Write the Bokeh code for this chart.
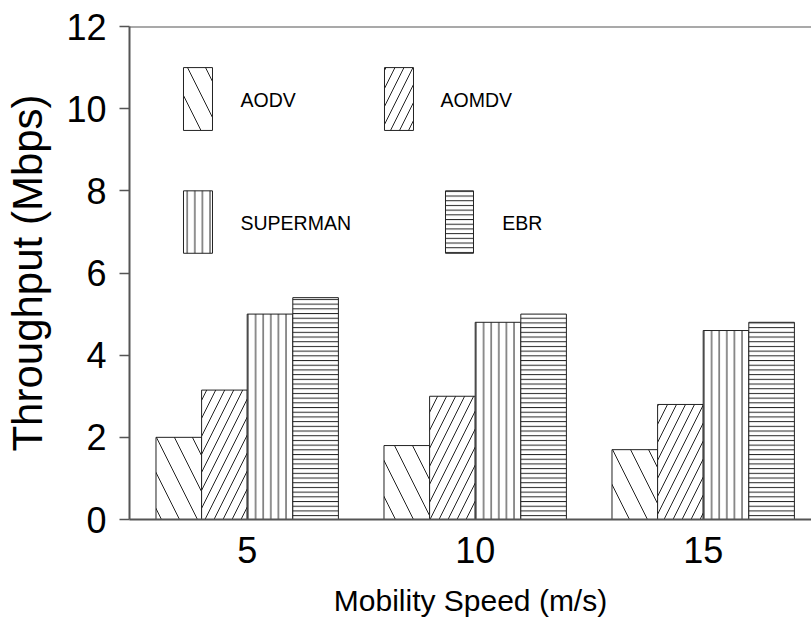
from bokeh.plotting import figure
from bokeh.models import Range1d, FixedTicker, Span
from bokeh.embed import file_html
from bokeh.resources import INLINE
from bokeh.core.properties import value
import numpy as np

# Throughput (Mbps) per routing protocol at each mobility speed
speeds = ["5", "10", "15"]
protocols = ["AODV", "AOMDV", "SUPERMAN", "EBR"]
aodv = [2.0, 1.8, 1.7]
aomdv = [3.15, 3.0, 2.8]
superman = [5.0, 4.8, 4.6]
ebr = [5.4, 5.0, 4.8]
y_ticks = [0, 2, 4, 6, 8, 10, 12]

series = [aodv, aomdv, superman, ebr]

FONT = "Liberation Sans"
AXIS_GREY = "#555555"
EDGE = "#222222"
TEXT = "#000000"

# hatch style per protocol: (pattern, spacing in px)
hatch_styles = [("\\", 36), ("/", 18), ("|", 7.6), ("-", 4.7)]

group_pos = np.arange(1, len(speeds) + 1)
bar_w = 0.2
offsets = [-0.3, -0.1, 0.1, 0.3]

p = figure(
    frame_width=682, frame_height=493,
    x_range=Range1d(0.4838, 3.475), y_range=Range1d(0, 12),
    output_backend="svg", toolbar_location=None,
    min_border_left=129, min_border_right=0, min_border_top=26,
    min_border_bottom=10,
)
p.background_fill_color = "white"
p.border_fill_color = "white"
p.outline_line_color = None
p.xgrid.visible = False
p.ygrid.visible = False

for vals, off, (pat, scale) in zip(series, offsets, hatch_styles):
    p.vbar(x=group_pos + off, top=vals, width=bar_w, bottom=0,
           fill_color="white", line_color=EDGE, line_width=1,
           hatch_pattern=pat, hatch_scale=scale, hatch_color=EDGE,
           hatch_weight=1)

# top frame line
p.add_layout(Span(location=12, dimension="width", line_color=AXIS_GREY,
                  line_width=2))

# legend: hatched swatches with labels, laid out in a 2x2 arrangement
leg_left = [0.7206, 1.6022, 0.7206, 1.8697]
leg_right = [0.8478, 1.7294, 0.8478, 1.9925]
leg_top = [11.0, 11.0, 8.0, 8.0]
leg_bottom = [9.47, 9.47, 6.48, 6.48]
txt_x = [0.9706, 1.8478, 0.9706, 2.1184]
txt_y = [10.2, 10.2, 7.22, 7.22]
for i, (pat, scale) in enumerate(hatch_styles):
    p.quad(left=[leg_left[i]], right=[leg_right[i]], top=[leg_top[i]],
           bottom=[leg_bottom[i]], fill_color="white", line_color=EDGE,
           line_width=1, hatch_pattern=pat, hatch_scale=scale,
           hatch_color=EDGE, hatch_weight=1)
p.text(x=txt_x, y=txt_y, text=protocols, text_font=value(FONT),
       text_font_size="19.5px", text_baseline="middle", text_align="left",
       text_color=TEXT)

# axes
xa = p.xaxis[0]
xa.ticker = FixedTicker(ticks=list(group_pos))
xa.major_label_overrides = {int(g): s for g, s in zip(group_pos, speeds)}
xa.major_tick_line_color = None
xa.minor_tick_line_color = None
xa.axis_line_color = AXIS_GREY
xa.axis_line_width = 2
xa.major_label_text_font = FONT
xa.major_label_text_font_size = "36px"
xa.major_label_text_color = TEXT
xa.major_label_standoff = 11
xa.axis_label = "Mobility Speed (m/s)"
xa.axis_label_text_font = FONT
xa.axis_label_text_font_size = "30px"
xa.axis_label_text_font_style = "normal"
xa.axis_label_text_color = TEXT
xa.axis_label_standoff = 18

ya = p.yaxis[0]
ya.ticker = FixedTicker(ticks=y_ticks)
ya.minor_tick_line_color = None
ya.major_tick_out = 10
ya.major_tick_in = 0
ya.major_tick_line_color = AXIS_GREY
ya.major_tick_line_width = 1.5
ya.axis_line_color = AXIS_GREY
ya.axis_line_width = 2
ya.major_label_text_font = FONT
ya.major_label_text_font_size = "36px"
ya.major_label_text_color = TEXT
ya.major_label_standoff = 13
ya.axis_label = "Throughput (Mbps)"
ya.axis_label_text_font = FONT
ya.axis_label_text_font_size = "42px"
ya.axis_label_text_font_style = "normal"
ya.axis_label_text_color = TEXT
ya.axis_label_standoff = 12

open("out.html", "w").write(file_html(p, INLINE))
